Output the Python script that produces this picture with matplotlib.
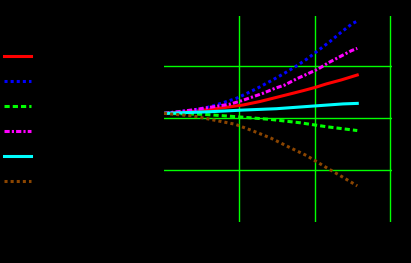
import matplotlib.pyplot as plt

# values (x in years, y in index units)
red_x = [0, 4, 6.1, 8.3, 10.5, 12.7, 14.9, 17.1, 18.4, 20.0, 21.5, 23.5, 25.6]
red_y = [104.4, 106.4, 108.3, 110.3, 112.5, 115.8, 119.8, 123.8, 126.2, 129.3, 132.7, 136.6, 141.3]

blue_x = [0, 3.9, 6.1, 7.8, 9.6, 11.0, 12.6, 14.2, 15.8, 17.4, 19.0, 20.5, 22.0, 23.6, 25.0, 25.6]
blue_y = [104.4, 107.6, 110.8, 114.6, 118.9, 123.7, 129.5, 135.8, 142.3, 149.3, 157.0, 165.3, 173.6, 183.2, 191.0, 193.0]

green_x = [0, 5.2, 9.6, 14.0, 18.0, 21.5, 25.6]
green_y = [104.4, 103.5, 101.2, 98.7, 95.4, 91.6, 87.9]

magenta_x = [0, 4, 8.7, 10.3, 13.1, 14.7, 16.0, 17.5, 18.9, 20.4, 21.8, 23.3, 24.8, 25.6]
magenta_y = [104.4, 107.9, 113.2, 116.6, 123.7, 128.5, 131.7, 137.4, 142.0, 147.0, 153.2, 158.9, 164.6, 166.9]

cyan_x = [0, 6.1, 10.5, 14.9, 19.3, 23.7, 25.6]
cyan_y = [104.4, 106.0, 107.6, 108.9, 111.2, 113.5, 114.0]

brown_x = [0, 3.9, 7.0, 9.4, 11.8, 14.2, 16.6, 18.9, 21.3, 23.7, 25.6]
brown_y = [104.4, 101.9, 97.4, 94.0, 87.5, 80.5, 71.8, 63.8, 53.2, 43.0, 34.7]

labels = ["Series 1", "Series 2", "Series 3", "Series 4", "Series 5", "Series 6"]

fig = plt.figure(figsize=(4.11, 2.63), dpi=100, facecolor="black")
ax = fig.add_axes([164 / 411, 41 / 263, 228 / 411, 206 / 263])
ax.set_facecolor("black")

lw = 2.2
ax.plot(red_x, red_y, color="#ff0000", lw=lw, label=labels[0])
ax.plot(blue_x, blue_y, color="#0000ff", lw=lw, dashes=(1, 1), label=labels[1])
ax.plot(green_x, green_y, color="#00ff00", lw=lw, dashes=(1.7, 1), label=labels[2])
ax.plot(magenta_x, magenta_y, color="#ff00ff", lw=lw, dashes=(1.7, 0.7, 0.7, 0.7), label=labels[3])
ax.plot(cyan_x, cyan_y, color="#00ffff", lw=lw, label=labels[4])
ax.plot(brown_x, brown_y, color="#8b4500", lw=lw, dashes=(1, 1), label=labels[5])

ax.set_xlim(0, 30.2)
ax.set_ylim(0, 198)
ax.set_xticks([10, 20, 30])
ax.set_yticks([50, 100, 150])
ax.grid(True, color="#00ff00", lw=1)
ax.tick_params(length=0, labelcolor="black")
for s in ax.spines.values():
    s.set_visible(False)

leg = fig.legend(loc="upper left", bbox_to_anchor=(-0.017, 0.853), frameon=False,
                 labelcolor="black", handlelength=2.15, labelspacing=0.97, fontsize=9)

fig.savefig("out.png", dpi=100, facecolor="black")
